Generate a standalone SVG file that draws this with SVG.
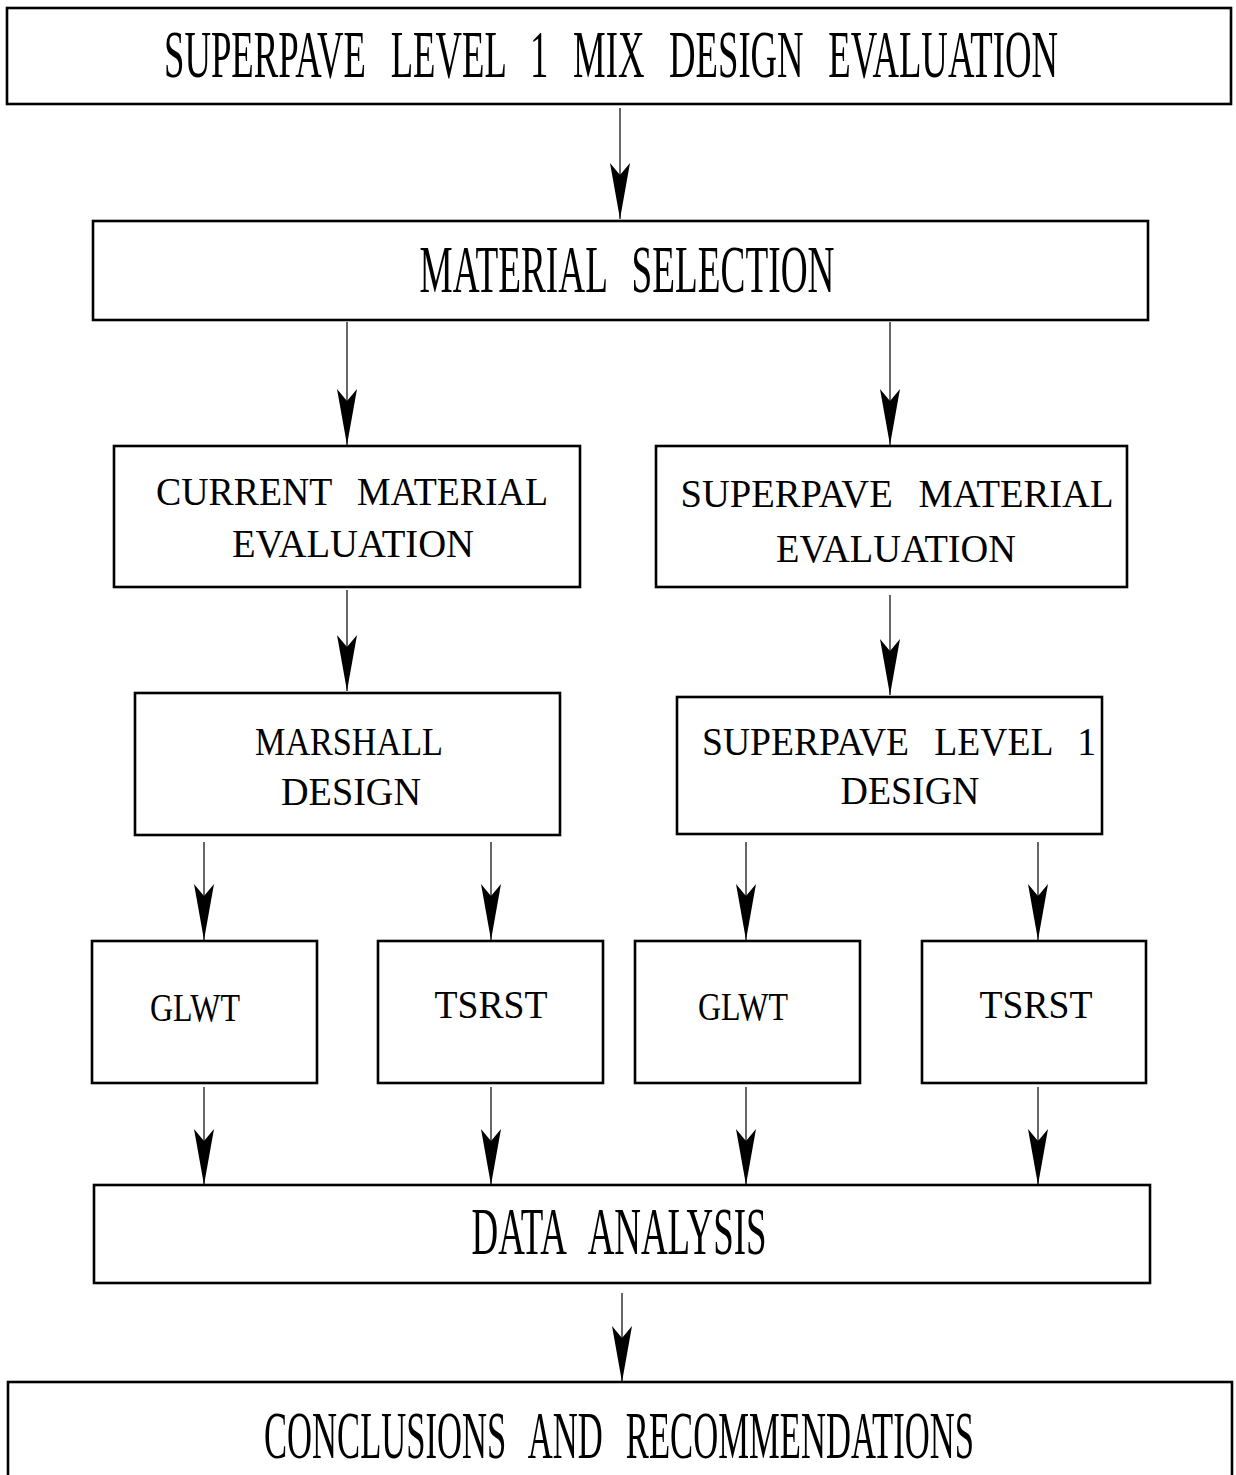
<svg xmlns="http://www.w3.org/2000/svg" width="1236" height="1475" viewBox="0 0 1236 1475">
<style>
.box{fill:#fff;stroke:#000;stroke-width:2.6}
.lbl{font-family:"Liberation Serif","Times New Roman",serif;fill:#000;text-anchor:middle;word-spacing:0.42em}
.big{font-size:36px}
.sm{font-size:41px}
.con{fill:none;stroke:#000;stroke-width:1.2}
</style>
<defs>
<marker id="ah" markerUnits="userSpaceOnUse" orient="auto" refX="0" refY="0" markerWidth="60" markerHeight="24" viewBox="-58 -12 60 24" overflow="visible">
<path d="M0,0 L-56,-10 L-44,0 L-56,10 Z" fill="#000"/>
</marker>
</defs>
<rect width="1236" height="1475" fill="#fff"/>
<g id="n1"><rect class="box" x="7" y="8" width="1224" height="96"/>
<text class="lbl big" transform="translate(611,77) scale(1,1.88)" x="0" y="0" textLength="894" lengthAdjust="spacingAndGlyphs">SUPERPAVE LEVEL 1 MIX DESIGN EVALUATION</text></g>
<g id="n2"><rect class="box" x="93" y="221" width="1055" height="99"/>
<text class="lbl big" transform="translate(627,292) scale(1,1.88)" x="0" y="0" textLength="415" lengthAdjust="spacingAndGlyphs">MATERIAL SELECTION</text></g>
<g id="n3"><rect class="box" x="114" y="446" width="466" height="141"/>
<text class="lbl sm" x="352" y="505" textLength="392" lengthAdjust="spacingAndGlyphs">CURRENT MATERIAL</text>
<text class="lbl sm" x="353" y="557" textLength="242" lengthAdjust="spacingAndGlyphs">EVALUATION</text></g>
<g id="n4"><rect class="box" x="656" y="446" width="471" height="141"/>
<text class="lbl sm" x="897" y="507" textLength="433" lengthAdjust="spacingAndGlyphs">SUPERPAVE MATERIAL</text>
<text class="lbl sm" x="896" y="562" textLength="240" lengthAdjust="spacingAndGlyphs">EVALUATION</text></g>
<g id="n5"><rect class="box" x="135" y="693" width="425" height="142"/>
<text class="lbl sm" x="349" y="755" textLength="188" lengthAdjust="spacingAndGlyphs">MARSHALL</text>
<text class="lbl sm" x="351" y="805" textLength="140" lengthAdjust="spacingAndGlyphs">DESIGN</text></g>
<g id="n6"><rect class="box" x="677" y="697" width="425" height="137"/>
<text class="lbl sm" x="899" y="755" textLength="394" lengthAdjust="spacingAndGlyphs">SUPERPAVE LEVEL 1</text>
<text class="lbl sm" x="910" y="804" textLength="139" lengthAdjust="spacingAndGlyphs">DESIGN</text></g>
<g id="n7"><rect class="box" x="92" y="941" width="225" height="142"/>
<text class="lbl sm" x="195" y="1021" textLength="90" lengthAdjust="spacingAndGlyphs">GLWT</text></g>
<g id="n8"><rect class="box" x="378" y="941" width="225" height="142"/>
<text class="lbl sm" x="491" y="1018" textLength="113" lengthAdjust="spacingAndGlyphs">TSRST</text></g>
<g id="n9"><rect class="box" x="635" y="941" width="225" height="142"/>
<text class="lbl sm" x="743" y="1020" textLength="90" lengthAdjust="spacingAndGlyphs">GLWT</text></g>
<g id="n10"><rect class="box" x="922" y="941" width="224" height="142"/>
<text class="lbl sm" x="1036" y="1018" textLength="113" lengthAdjust="spacingAndGlyphs">TSRST</text></g>
<g id="n11"><rect class="box" x="94" y="1185" width="1056" height="98"/>
<text class="lbl big" transform="translate(619,1254) scale(1,1.88)" x="0" y="0" textLength="295" lengthAdjust="spacingAndGlyphs">DATA ANALYSIS</text></g>
<g id="n12"><rect class="box" x="8" y="1382" width="1224" height="110"/>
<text class="lbl big" transform="translate(619,1458) scale(1,1.88)" x="0" y="0" textLength="710" lengthAdjust="spacingAndGlyphs">CONCLUSIONS AND RECOMMENDATIONS</text></g>
<g id="connectors">
<path class="con" d="M620,108 V219" marker-end="url(#ah)"/>
<path class="con" d="M347,322 V445" marker-end="url(#ah)"/>
<path class="con" d="M890,322 V445" marker-end="url(#ah)"/>
<path class="con" d="M347,590 V691" marker-end="url(#ah)"/>
<path class="con" d="M890,595 V695" marker-end="url(#ah)"/>
<path class="con" d="M204,842 V940" marker-end="url(#ah)"/>
<path class="con" d="M491,842 V940" marker-end="url(#ah)"/>
<path class="con" d="M746,842 V940" marker-end="url(#ah)"/>
<path class="con" d="M1038,842 V940" marker-end="url(#ah)"/>
<path class="con" d="M204,1087 V1185" marker-end="url(#ah)"/>
<path class="con" d="M491,1087 V1185" marker-end="url(#ah)"/>
<path class="con" d="M746,1087 V1185" marker-end="url(#ah)"/>
<path class="con" d="M1038,1087 V1185" marker-end="url(#ah)"/>
<path class="con" d="M622,1293 V1382" marker-end="url(#ah)"/>
</g>
</svg>
